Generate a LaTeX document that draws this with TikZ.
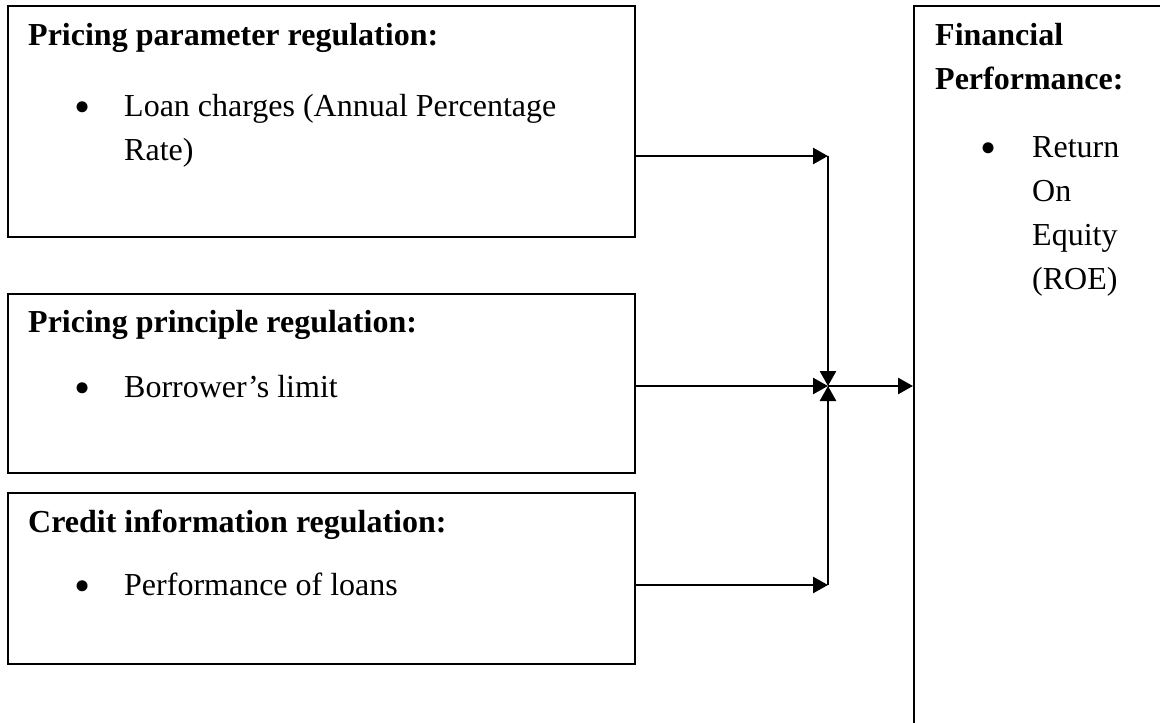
\documentclass[tikz,border=0pt]{standalone}
\usepackage{fontspec}
\setmainfont{Liberation Serif}
\usetikzlibrary{arrows.meta}
\begin{document}
\begin{tikzpicture}[x=1pt,y=-1pt,
  box/.style={draw,line width=2.2pt,inner sep=0pt,anchor=north west},
  ttl/.style={anchor=base west,inner sep=0pt,font=\fontsize{32}{38}\selectfont\bfseries},
  txt/.style={anchor=base west,inner sep=0pt,font=\fontsize{32}{38}\selectfont},
  bul/.style={anchor=base,inner sep=0pt,font=\fontsize{46}{46}\selectfont},
  conn/.style={line width=2.6pt,-{Triangle[length=15pt,width=16pt]}}]
\clip (0,0) rectangle (1160,723);
% boxes
\node[box,minimum width=627pt,minimum height=231pt] (b1) at (7,5) {};
\node[box,minimum width=627pt,minimum height=179pt] (b2) at (7,293) {};
\node[box,minimum width=627pt,minimum height=171pt] (b3) at (7,492) {};
\node[box,minimum width=400pt,minimum height=800pt] (b4) at (913,5) {};
% texts box 1
\node[ttl] (t1) at (28,45) {Pricing parameter regulation:};
\node[bul] (u1) at (83,122) {•};
\node[txt] (l1a) at (124,116) {Loan charges (Annual Percentage};
\node[txt] (l1b) at (124,160) {Rate)};
% box 2
\node[ttl] (t2) at (28,332) {Pricing principle regulation:};
\node[bul] (u2) at (83,403) {•};
\node[txt] (l2) at (124,397) {Borrower’s limit};
% box 3
\node[ttl] (t3) at (28,532) {Credit information regulation:};
\node[bul] (u3) at (83,601) {•};
\node[txt] (l3) at (124,595) {Performance of loans};
% box 4
\node[ttl] (t4a) at (935,45) {Financial};
\node[ttl] (t4b) at (935,89) {Performance:};
\node[bul] (u4) at (989,163) {•};
\node[txt] (l4a) at (1032,157) {Return};
\node[txt] (l4b) at (1032,201) {On};
\node[txt] (l4c) at (1032,245) {Equity};
\node[txt] (l4d) at (1032,289) {(ROE)};
% connectors
\coordinate (j) at (828,386);
\coordinate (jt) at (828,156);
\coordinate (jb) at (828,585);
\draw[conn] (b1.east |- jt) -- (jt);
\draw[conn] (jt) -- (j);
\draw[conn] (b2.east |- j) -- (j);
\draw[conn] (jb) -- (j);
\draw[conn] (b3.east |- jb) -- (jb);
\draw[conn] (j) -- (b4.west |- j);
\end{tikzpicture}
\end{document}
